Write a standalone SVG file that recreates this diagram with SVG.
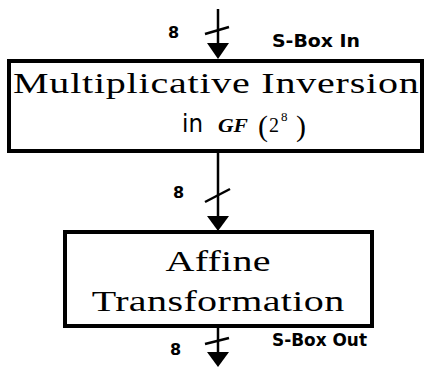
<svg xmlns="http://www.w3.org/2000/svg" width="425" height="368" viewBox="0 0 425 368">
<defs>
<style>
.box{fill:#fff;stroke:#000;stroke-width:4}
.wire{stroke:#000;stroke-width:2.5;fill:none}
.slash{stroke:#000;stroke-width:2.5}
.head{fill:#000}
.lbl{font-family:"DejaVu Sans",sans-serif;font-weight:bold;font-size:16px;fill:#000}
.io{font-family:"DejaVu Sans",sans-serif;font-weight:bold;font-size:17px;fill:#000}
.serif{font-family:"Liberation Serif","Times New Roman",serif;font-size:29px;fill:#000}
</style>
</defs>
<rect width="425" height="368" fill="#fff"/>
<g id="connectors">
<line class="wire" x1="218" y1="9" x2="218" y2="46"/>
<line class="slash" x1="205" y1="34" x2="229" y2="27"/>
<polygon class="head" points="207,43 229,43 218,59"/>
<line class="wire" x1="218" y1="152" x2="218" y2="218"/>
<line class="slash" x1="205" y1="202" x2="230" y2="189"/>
<polygon class="head" points="207,216 229,216 218,231"/>
<line class="wire" x1="218" y1="327" x2="218" y2="355"/>
<line class="slash" x1="205" y1="344" x2="229" y2="338"/>
<polygon class="head" points="207,352 229,352 218,367"/>
<text class="lbl" x="168" y="38">8</text>
<text class="lbl" x="173" y="198">8</text>
<text class="lbl" x="170" y="355">8</text>
<text class="io" x="272" y="47" textLength="88" lengthAdjust="spacingAndGlyphs">S-Box In</text>
<text class="io" x="272" y="346" textLength="95" lengthAdjust="spacingAndGlyphs">S-Box Out</text>
</g>
<g id="inversion">
<rect class="box" x="9" y="61" width="413" height="90"/>
<text class="serif" transform="translate(13,93) scale(1.38,1)" x="0" y="0" textLength="294" lengthAdjust="spacing">Multiplicative Inversion</text>
<text x="182" y="132" font-family="DejaVu Sans,sans-serif" font-size="24" textLength="21" lengthAdjust="spacingAndGlyphs">in</text>
<text x="218" y="132" font-family="Liberation Serif,serif" font-style="italic" font-weight="bold" font-size="18" textLength="30" lengthAdjust="spacingAndGlyphs">GF</text>
<text x="258" y="136" font-family="Liberation Serif,serif" font-size="30">(</text>
<text x="269" y="132" font-family="Liberation Serif,serif" font-size="20">2</text>
<text x="281" y="121" font-family="Liberation Serif,serif" font-size="13">8</text>
<text x="296" y="136" font-family="Liberation Serif,serif" font-size="30">)</text>
</g>
<g id="affine">
<rect class="box" x="65" y="232" width="307" height="94"/>
<text class="serif" transform="translate(218,271) scale(1.38,1)" x="0" y="0" text-anchor="middle" textLength="76" lengthAdjust="spacing">Affine</text>
<text class="serif" transform="translate(218,311) scale(1.38,1)" x="0" y="0" text-anchor="middle" textLength="183" lengthAdjust="spacing">Transformation</text>
</g>
</svg>
